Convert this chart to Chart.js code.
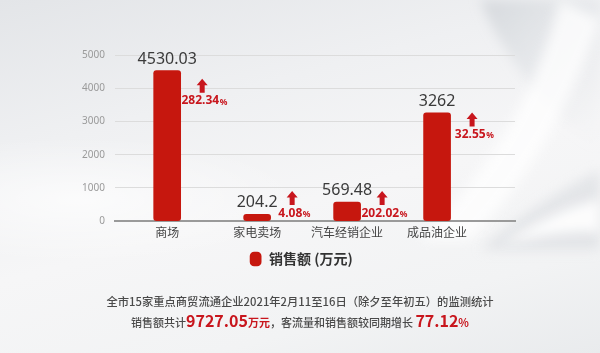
<!DOCTYPE html>
<html>
<head>
<meta charset="utf-8">
<script src="https://cdn.jsdelivr.net/npm/chart.js@4"></script>
<style>
  html, body { margin: 0; padding: 0; }
  body {
    width: 600px; height: 353px; overflow: hidden; position: relative;
    font-family: "Noto Sans CJK SC", "Noto Sans", sans-serif;
    background:
      radial-gradient(ellipse 320px 90px at 80px 200px, rgba(255,255,255,0.7) 0%, rgba(255,255,255,0) 70%),
      linear-gradient(165deg, #e3e5e8 0%, #eff0f2 30%, #f6f6f7 55%, #f2f3f4 80%, #e9ebed 100%);
  }
  #bg { position: absolute; left: 0; top: 0; }
  #wrap { position: absolute; left: 0; top: 0; width: 600px; height: 353px; }
  .note {
    position: absolute; left: 0; width: 600px; text-align: center;
    color: #4a4a4a; font-weight: 500; white-space: nowrap;
  }
  #line1 { top: 292px; font-size: 11.3px; line-height: 18px; }
  #line2 { top: 309px; font-size: 11px; line-height: 22px; }
  .red { color: #c8161d; font-weight: 700; }
  .big { font-size: 16px; }
  .mid { font-size: 11px; }
</style>
</head>
<body>
<svg id="bg" width="600" height="353" viewBox="0 0 600 353">
  <defs>
    <filter id="soft" x="-20%" y="-20%" width="140%" height="140%"><feGaussianBlur stdDeviation="6"/></filter>
    <linearGradient id="shade" x1="0" y1="0" x2="1" y2="1">
      <stop offset="0" stop-color="#cfd3d8" stop-opacity="0.8"/>
      <stop offset="1" stop-color="#e6e8eb" stop-opacity="0"/>
    </linearGradient>
  </defs>
  <!-- soft swooshes on the right -->
  <path d="M600,0 L600,150 C560,120 530,90 500,40 C490,25 485,10 480,0 Z" fill="url(#shade)" filter="url(#soft)"/>
  <path d="M560,0 C540,80 500,160 420,240 L470,240 C540,170 580,80 600,20 Z" fill="#ffffff" opacity="0.75" filter="url(#soft)"/>
  <path d="M600,170 C560,190 520,215 480,250 L600,250 Z" fill="#d9dce0" opacity="0.6" filter="url(#soft)"/>
  <path d="M600,200 C570,205 540,220 500,245 C540,235 575,230 600,232 Z" fill="#ffffff" opacity="0.9" filter="url(#soft)"/>
</svg>
<div id="wrap"><canvas id="chart" width="600" height="353"></canvas></div>
<div class="note" id="line1">全市15家重点商贸流通企业2021年2月11至16日（除夕至年初五）的监测统计</div>
<div class="note" id="line2">销售额共计<span class="red big">9727.05</span><span class="red mid">万元</span>，客流量和销售额较同期增长 <span class="red big">77.12</span><span class="red mid">%</span></div>
<script>
// 2021 春节期间重点商贸流通企业销售额（万元）及同比增长
const categories = ['商场', '家电卖场', '汽车经销企业', '成品油企业'];
const sales = [4530.03, 204.2, 569.48, 3262];
const growth = ['282.34', '4.08', '202.02', '32.55'];
const yTicks = [0, 1000, 2000, 3000, 4000, 5000];
const seriesName = '销售额 (万元)';

const RED = '#c6170e';
const LABEL_RED = '#c8161d';

// value labels above bars, plus red up-arrows with growth rates
const annotate = {
  id: 'annotate',
  afterDatasetsDraw(chart) {
    const ctx = chart.ctx;
    const meta = chart.getDatasetMeta(0);
    const y = chart.scales.y;
    const zeroY = y.getPixelForValue(0);
    ctx.save();
    meta.data.forEach((bar, i) => {
      const cx = bar.x;
      const top = bar.y;
      // value
      ctx.fillStyle = '#3a3a3a';
      ctx.font = '16px "Noto Sans", "Open Sans", sans-serif';
      ctx.textAlign = 'center';
      ctx.textBaseline = 'alphabetic';
      ctx.fillText(String(sales[i]), cx, top - 7);

      // growth label: alongside the bar, or resting on the baseline for short bars
      const inner = y.getPixelForValue(sales[i] * 0.8);
      const textY = inner > zeroY - 40 ? zeroY - 8 : inner;
      const ax = cx + 35;
      const arrowBottom = textY - 8;
      const arrowTop = arrowBottom - 14;
      ctx.fillStyle = LABEL_RED;
      ctx.beginPath();
      ctx.moveTo(ax, arrowTop);
      ctx.lineTo(ax + 5.5, arrowTop + 6.5);
      ctx.lineTo(ax + 2.5, arrowTop + 6.5);
      ctx.lineTo(ax + 2.5, arrowBottom);
      ctx.lineTo(ax - 2.5, arrowBottom);
      ctx.lineTo(ax - 2.5, arrowTop + 6.5);
      ctx.lineTo(ax - 5.5, arrowTop + 6.5);
      ctx.closePath();
      ctx.fill();

      const numFont = 'bold 12px "Noto Sans", "Open Sans", sans-serif';
      const pctFont = 'bold 8.5px "Noto Sans", "Open Sans", sans-serif';
      ctx.font = numFont;
      const w1 = ctx.measureText(growth[i]).width;
      ctx.font = pctFont;
      const w2 = ctx.measureText('%').width;
      const start = ax + 2 - (w1 + w2) / 2;
      ctx.textAlign = 'left';
      ctx.textBaseline = 'middle';
      ctx.font = numFont;
      ctx.fillText(growth[i], start, textY);
      ctx.font = pctFont;
      ctx.fillText('%', start + w1 + 0.5, textY + 1.5);
    });
    ctx.restore();
  }
};

new Chart(document.getElementById('chart'), {
  type: 'bar',
  data: {
    datasets: [{
      label: seriesName,
      data: sales.map((v, i) => ({ x: i, y: v })),
      backgroundColor: RED,
      borderRadius: 3,
      borderSkipped: false,
      barThickness: 27
    }]
  },
  options: {
    responsive: false,
    animation: false,
    devicePixelRatio: 1,
    layout: { padding: { left: 70, right: 68, top: 55, bottom: 77 } },
    plugins: {
      legend: {
        position: 'bottom',
        labels: {
          usePointStyle: true,
          pointStyle: 'rectRounded',
          pointStyleWidth: 13,
          boxHeight: 12,
          color: '#333',
          padding: 8.5,
          font: { size: 14, weight: 'bold', family: '"Noto Sans CJK SC", "Noto Sans", sans-serif' }
        }
      },
      tooltip: { enabled: false }
    },
    scales: {
      x: {
        type: 'linear',
        offset: false,
        min: -0.58,
        max: 3.866,
        afterBuildTicks(scale) { scale.ticks = categories.map((_, i) => ({ value: i })); },
        ticks: {
          callback: (v) => categories[v] ?? '',
          color: '#444',
          font: { size: 12, family: '"Noto Sans CJK SC", sans-serif' },
          padding: 4,
          autoSkip: false,
          maxRotation: 0
        },
        grid: { display: false, drawTicks: false },
        border: { color: '#9a9a9a', width: 2 }
      },
      y: {
        min: 0,
        max: 5000,
        afterBuildTicks(scale) { scale.ticks = yTicks.map(v => ({ value: v })); },
        afterFit(scale) { scale.width = 45; },
        ticks: {
          callback: (v) => String(v),
          color: '#9a9a9a',
          font: { size: 10, family: '"Noto Sans", sans-serif' },
          padding: 10
        },
        grid: { color: '#dcdcdc', lineWidth: 1, drawTicks: false },
        border: { display: false }
      },
      // empty right-hand gutter so the legend sits centred on the page
      gutter: {
        type: 'linear',
        position: 'right',
        display: true,
        afterFit(scale) { scale.width = 17; },
        ticks: { display: false },
        grid: { display: false, drawTicks: false },
        border: { display: false }
      }
    }
  },
  plugins: [annotate]
});
</script>
</body>
</html>
